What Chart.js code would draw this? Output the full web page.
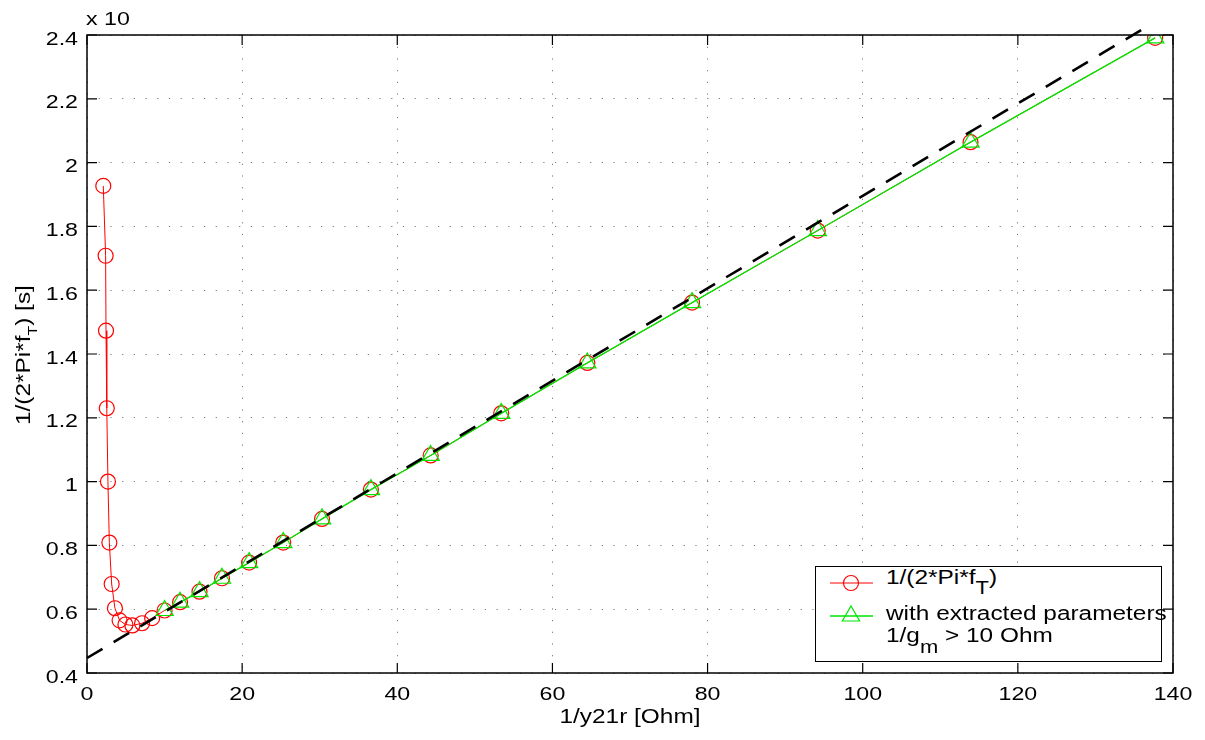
<!DOCTYPE html>
<html>
<head>
<meta charset="utf-8">
<script src="https://cdn.jsdelivr.net/npm/chart.js@4.4.1/dist/chart.umd.min.js"></script>
<style>
  html, body { margin: 0; padding: 0; background: #fff; }
  #wrap { position: relative; width: 1205px; height: 740px; overflow: hidden;
          font-family: "Liberation Sans", Arial, sans-serif; color: #000; }
  #chart { position: absolute; left: 0; top: 0; }
  .t { position: absolute; white-space: nowrap; font-size: 20px; line-height: 20px;
       transform-origin: 0 0; transform: scaleX(1.22); }
  .sub { position: relative; }
  #legend { position: absolute; left: 815px; top: 566px; width: 347px; height: 96px;
            box-sizing: border-box; border: 1.5px solid #000; background: #fff; }
  #legend svg { position: absolute; left: 0; top: 0; }
</style>
</head>
<body>
<div id="wrap">
  <canvas id="chart" width="1205" height="740"></canvas>

  <div class="t" style="left:86px; top:9px; font-size:19px; line-height:19px;">x 10</div>
  <div class="t" id="xtitle" style="left:630px; top:706px; transform-origin:50% 0; transform:translateX(-50%) scaleX(1.22);">1/y21r [Ohm]</div>
  <div class="t" style="left:0; top:0; transform:translate(13px, 425px) rotate(-90deg) scaleX(1.22);">1/(2*Pi*f<span class="sub" style="font-size:13px; top:7px;">T</span>) [s]</div>

  <div id="legend">
    <svg width="347" height="96">
      <line x1="14" y1="16" x2="57" y2="16" stroke="#ff0000" stroke-width="1"/>
      <circle cx="35" cy="16" r="7.5" fill="none" stroke="#ff0000" stroke-width="1.2"/>
      <line x1="14" y1="49" x2="57" y2="49" stroke="#00e600" stroke-width="1.3"/>
      <polygon points="35,39 43.66,54 26.34,54" fill="none" stroke="#00e600" stroke-width="1.2"/>
    </svg>
  </div>
  <div class="t" style="left:886px; top:567px;">1/(2*Pi*f<span class="sub" style="font-size:18px; top:10px;">T</span>)</div>
  <div class="t" style="left:886px; top:603px;">with extracted parameters</div>
  <div class="t" style="left:886px; top:625px;">1/g<span class="sub" style="font-size:18px; top:11px;">m</span> &gt; 10 Ohm</div>
</div>

<script>
// measured 1/(2*Pi*fT) vs 1/y21r
const redX = [2.1, 2.4, 2.45, 2.55, 2.7, 2.88, 3.18, 3.6, 4.2, 4.95, 5.85, 7.1, 8.4,
              10.0, 12.0, 14.5, 17.4, 20.9, 25.3, 30.3, 36.6, 44.3, 53.4, 64.5, 78.0, 94.2, 113.9, 137.7];
const redY = [1.927, 1.708, 1.473, 1.23, 1.0, 0.809, 0.679, 0.603, 0.565, 0.552, 0.549, 0.556, 0.572,
              0.596, 0.622, 0.655, 0.697, 0.746, 0.809, 0.883, 0.975, 1.082, 1.214, 1.372, 1.561, 1.787, 2.064, 2.391];

// with extracted parameters, 1/gm > 10 Ohm
const greenX = [10.0, 12.0, 14.5, 17.4, 20.9, 25.3, 30.3, 36.6, 44.3, 53.4, 64.5, 78.0, 94.2, 113.9, 137.7];
const greenY = [0.596, 0.622, 0.655, 0.697, 0.746, 0.809, 0.883, 0.975, 1.082, 1.214, 1.372, 1.561, 1.787, 2.064, 2.391];

// straight-line fit (dashed)
const fitX = [0, 136];
const fitY = [0.447, 2.417];

const xTicks = [0, 20, 40, 60, 80, 100, 120, 140];
const xTickLabels = ['0', '20', '40', '60', '80', '100', '120', '140'];
const yTicks = [0.4, 0.6, 0.8, 1.0, 1.2, 1.4, 1.6, 1.8, 2.0, 2.2, 2.4];
const yTickLabels = ['0.4', '0.6', '0.8', '1', '1.2', '1.4', '1.6', '1.8', '2', '2.2', '2.4'];

const TICK_LEN = 10;
const TEXT_SX = 1.22;   // reference text is drawn wide
const FONT = '19px "Liberation Sans", Arial, sans-serif';

const pts = (xs, ys) => xs.map((x, i) => ({ x, y: ys[i] }));

// MATLAB-like frame: box, inward ticks on all four sides, stretched tick labels
const framePlugin = {
  id: 'frame',
  afterDraw(chart) {
    const { ctx, chartArea: a, scales: { x, y } } = chart;
    ctx.save();
    ctx.strokeStyle = '#000';
    ctx.lineWidth = 1.5;
    ctx.strokeRect(a.left, a.top, a.right - a.left, a.bottom - a.top);

    ctx.lineWidth = 1.2;
    ctx.beginPath();
    xTicks.forEach((v) => {
      const px = x.getPixelForValue(v);
      ctx.moveTo(px, a.bottom); ctx.lineTo(px, a.bottom - TICK_LEN);
      ctx.moveTo(px, a.top); ctx.lineTo(px, a.top + TICK_LEN);
    });
    yTicks.forEach((v) => {
      const py = y.getPixelForValue(v);
      ctx.moveTo(a.left, py); ctx.lineTo(a.left + TICK_LEN, py);
      ctx.moveTo(a.right, py); ctx.lineTo(a.right - TICK_LEN, py);
    });
    ctx.stroke();

    ctx.fillStyle = '#000';
    ctx.font = FONT;
    ctx.textBaseline = 'alphabetic';
    ctx.textAlign = 'center';
    xTicks.forEach((v, i) => {
      ctx.save();
      ctx.translate(x.getPixelForValue(v), a.bottom + 27);
      ctx.scale(TEXT_SX, 1);
      ctx.fillText(xTickLabels[i], 0, 0);
      ctx.restore();
    });
    ctx.textAlign = 'right';
    yTicks.forEach((v, i) => {
      ctx.save();
      ctx.translate(a.left - 9, y.getPixelForValue(v) + 9.5);
      ctx.scale(TEXT_SX, 1);
      ctx.fillText(yTickLabels[i], 0, 0);
      ctx.restore();
    });
    ctx.restore();
  },
};

const gridOpts = { color: '#7a7a7a', lineWidth: 1, drawTicks: false };
const borderOpts = { display: false, dash: [1.2, 10.5] };

new Chart(document.getElementById('chart').getContext('2d'), {
  type: 'scatter',
  data: {
    datasets: [
      { label: 'fit', data: pts(fitX, fitY), showLine: true, borderColor: '#000', borderWidth: 2.6,
        borderDash: [18, 13], pointRadius: 0, clip: false },
      { label: 'with extracted parameters', data: pts(greenX, greenY), showLine: true,
        borderColor: '#00e600', borderWidth: 1.3, pointStyle: 'triangle', pointRadius: 10,
        pointBorderColor: '#00e600', pointBackgroundColor: 'rgba(0,0,0,0)', pointBorderWidth: 1.2 },
      { label: '1/(2*Pi*fT)', data: pts(redX, redY), showLine: true,
        borderColor: '#ff0000', borderWidth: 1, pointStyle: 'circle', pointRadius: 7.5,
        pointBorderColor: '#ff0000', pointBackgroundColor: 'rgba(0,0,0,0)', pointBorderWidth: 1.2 },
    ],
  },
  options: {
    responsive: false,
    animation: false,
    events: [],
    layout: { padding: { left: 0, top: 35, right: 32, bottom: 0 } },
    plugins: { legend: { display: false }, tooltip: { enabled: false } },
    scales: {
      x: {
        type: 'linear', min: 0, max: 140,
        afterBuildTicks: (s) => { s.ticks = xTicks.map((value) => ({ value })); },
        afterFit: (s) => { s.height = 67; },
        ticks: { display: false },
        grid: gridOpts, border: borderOpts,
      },
      y: {
        type: 'linear', min: 0.4, max: 2.4,
        afterBuildTicks: (s) => { s.ticks = yTicks.map((value) => ({ value })); },
        afterFit: (s) => { s.width = 87; },
        ticks: { display: false },
        grid: gridOpts, border: borderOpts,
      },
    },
  },
  plugins: [framePlugin],
});
</script>
</body>
</html>
